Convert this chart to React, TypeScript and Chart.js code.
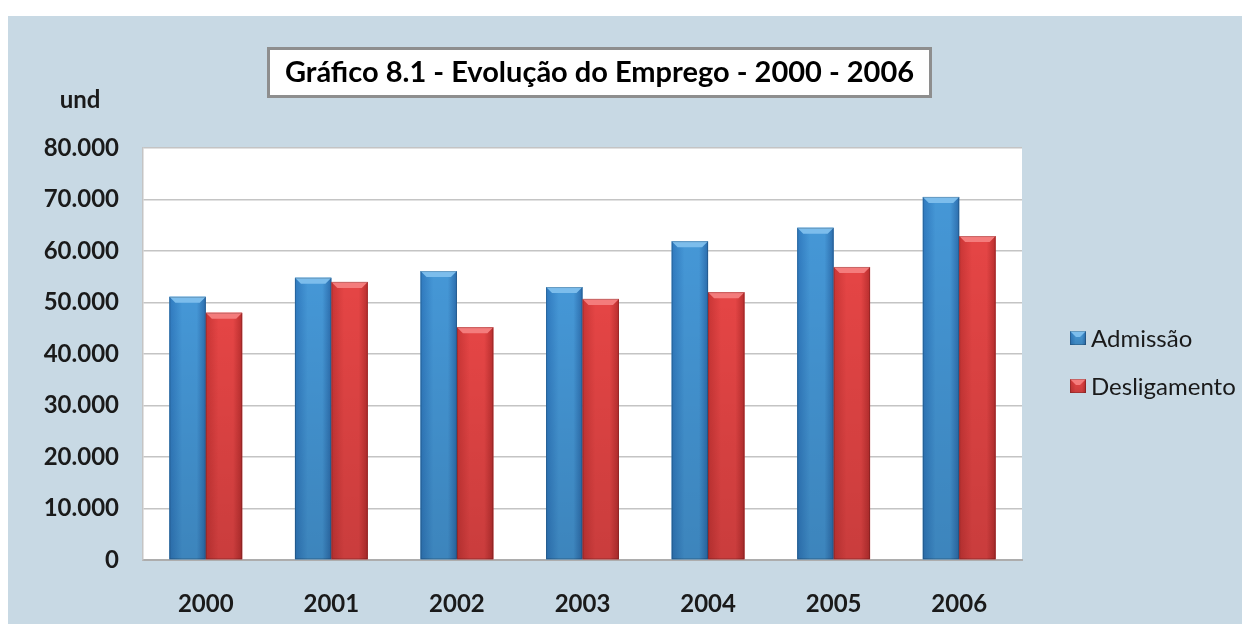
import React, { useEffect, useRef } from "react";
import { Chart, registerables } from "chart.js";

Chart.register(...registerables);

const years = ["2000", "2001", "2002", "2003", "2004", "2005", "2006"];
const admissao = [51100, 54800, 56100, 53000, 61900, 64500, 70500];
const desligamento = [48000, 54000, 45200, 50700, 52000, 56900, 62900];
const seriesLabels = ["Admissão", "Desligamento"];
const titleText = "Gráfico 8.1 - Evolução do Emprego - 2000 - 2006";
const unitLabel = "und";
const yMax = 80000;
const yStep = 10000;

const FONT = "Lato, 'Open Sans', sans-serif";
const PANEL = "#C8D9E4";

const palettes = [
  { edgeL: "#2F79BE", mid: "#4597D6", edgeR: "#2C6DAD", top: "#7CBDEC" },
  { edgeL: "#C93535", mid: "#E54545", edgeR: "#B92E2E", top: "#F47C7C" },
];

const fmt = (v: number) => String(v).replace(/\B(?=(\d{3})+(?!\d))/g, ".");

function paintBar(ctx: CanvasRenderingContext2D, left: number, top: number, w: number, h: number, p: any) {
  const g = ctx.createLinearGradient(left, 0, left + w, 0);
  g.addColorStop(0, p.edgeL);
  g.addColorStop(0.35, p.mid);
  g.addColorStop(0.75, p.mid);
  g.addColorStop(1, p.edgeR);
  ctx.fillStyle = g;
  ctx.fillRect(left, top, w, h);
  const v = ctx.createLinearGradient(0, top, 0, top + h);
  v.addColorStop(0, "rgba(0,0,0,0)");
  v.addColorStop(1, "rgba(0,0,0,0.12)");
  ctx.fillStyle = v;
  ctx.fillRect(left, top, w, h);
  const b = Math.min(6, h / 2);
  ctx.beginPath();
  ctx.moveTo(left, top);
  ctx.lineTo(left + w, top);
  ctx.lineTo(left + w - b, top + b);
  ctx.lineTo(left + b, top + b);
  ctx.closePath();
  ctx.fillStyle = p.top;
  ctx.fill();
  ctx.strokeStyle = "rgba(0,0,0,0.18)";
  ctx.lineWidth = 1;
  ctx.strokeRect(left + 0.5, top + 0.5, w - 1, h - 1);
}

const decorPlugin = {
  id: "decor",
  beforeDraw(chart: any) {
    const { ctx, chartArea: a, width, height } = chart;
    ctx.save();
    ctx.fillStyle = PANEL;
    ctx.fillRect(0, 0, width, height);
    ctx.fillStyle = "#FFFFFF";
    ctx.fillRect(a.left, a.top, a.right - a.left, a.bottom - a.top);
    ctx.restore();
  },
  afterDatasetsDraw(chart: any) {
    const { ctx } = chart;
    ctx.save();
    chart.data.datasets.forEach((_: any, i: number) => {
      const meta = chart.getDatasetMeta(i);
      meta.data.forEach((el: any) => {
        const { x, y, base, width } = el.getProps(["x", "y", "base", "width"], true);
        paintBar(ctx, x - width / 2, y, width, base - y, palettes[i]);
      });
    });
    ctx.restore();
  },
  afterDraw(chart: any) {
    const { ctx, chartArea: a } = chart;
    ctx.save();
    // title box
    const bx = 259, by = 31, bw = 665, bh = 51;
    ctx.fillStyle = "#FFFFFF";
    ctx.fillRect(bx, by, bw, bh);
    ctx.strokeStyle = "#8E8E8E";
    ctx.lineWidth = 3;
    ctx.strokeRect(bx + 1.5, by + 1.5, bw - 3, bh - 3);
    ctx.fillStyle = "#000000";
    ctx.font = `bold 29px ${FONT}`;
    ctx.textAlign = "center";
    ctx.textBaseline = "alphabetic";
    ctx.fillText(titleText, bx + bw / 2, 66);
    // unit label
    ctx.font = `bold 24px ${FONT}`;
    ctx.fillStyle = "#1A1A1A";
    ctx.fillText(unitLabel, 72, 92);
    // legend
    const lx = a.right + 48;
    chart.data.datasets.forEach((ds: any, i: number) => {
      const cy = 322 + i * 48;
      paintBar(ctx, lx, cy - 7, 16, 14, palettes[i]);
      ctx.fillStyle = "#1A1A1A";
      ctx.font = `24px ${FONT}`;
      ctx.textAlign = "left";
      ctx.textBaseline = "middle";
      ctx.fillText(ds.label, lx + 21, cy + 1);
    });
    ctx.restore();
  },
};

export default function App() {
  const ref = useRef<HTMLCanvasElement | null>(null);
  useEffect(() => {
    document.body.style.margin = "0";
    document.body.style.overflow = "hidden";
    if (!ref.current) return;
    const chart = new Chart(ref.current, {
      type: "bar",
      data: {
        labels: years,
        datasets: [
          { label: seriesLabels[0], data: admissao, backgroundColor: palettes[0].mid },
          { label: seriesLabels[1], data: desligamento, backgroundColor: palettes[1].mid },
        ],
      },
      options: {
        animation: false,
        responsive: true,
        maintainAspectRatio: false,
        layout: { padding: { top: 132, right: 220, left: 0, bottom: 0 } },
        datasets: { bar: { barPercentage: 1, categoryPercentage: 0.58 } },
        plugins: {
          legend: { display: false },
          title: { display: false },
          tooltip: { enabled: false },
        },
        scales: {
          x: {
            grid: { display: false, drawTicks: false },
            border: { display: true, color: "#ADADAD", width: 2 },
            ticks: { font: { family: FONT, size: 24, weight: "bold" }, color: "#1A1A1A", padding: 30 },
            afterFit: (s: any) => { s.height = 64; },
          },
          y: {
            min: 0,
            max: yMax,
            ticks: {
              stepSize: yStep,
              callback: (v: any) => fmt(Number(v)),
              font: { family: FONT, size: 24, weight: "bold" },
              color: "#1A1A1A",
              padding: 24,
            },
            grid: { color: "#C4C4C4", lineWidth: 1.5, drawTicks: false },
            border: { display: true, color: "#C4C4C4", width: 1.5 },
            afterFit: (s: any) => { s.width = 135; },
          },
        },
      } as any,
      plugins: [decorPlugin],
    });
    return () => chart.destroy();
  }, []);
  return (
    <div style={{ position: "absolute", left: 8, top: 16, width: 1234, height: 608 }}>
      <canvas ref={ref} />
    </div>
  );
}
